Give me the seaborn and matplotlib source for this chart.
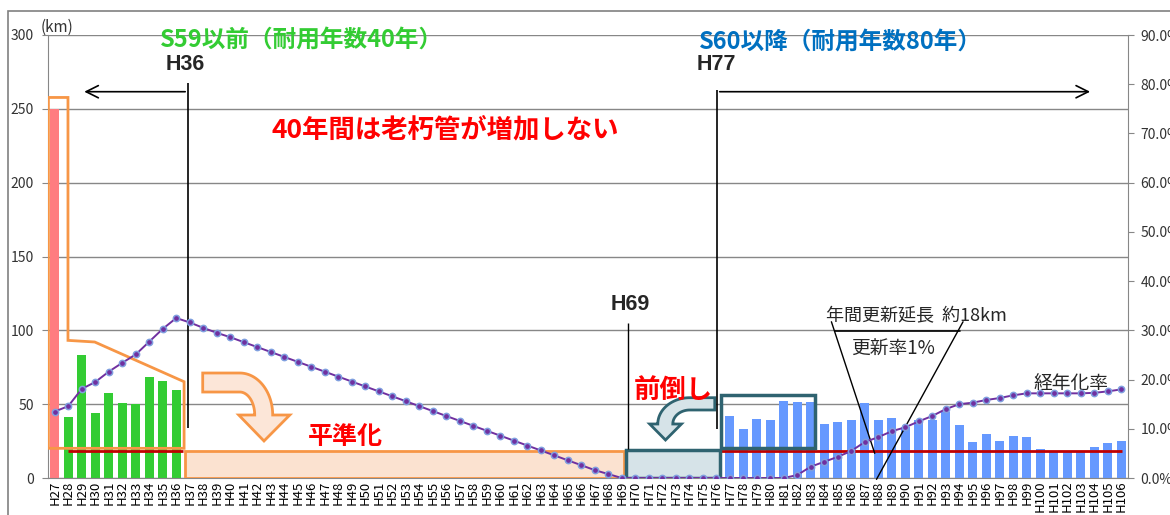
import numpy as np
import pandas as pd
import matplotlib
matplotlib.use("Agg")
import matplotlib.pyplot as plt
import seaborn as sns
from matplotlib.patches import Polygon, Rectangle
from matplotlib.ticker import FuncFormatter

# --- data ---
years = [f"H{n}" for n in range(27, 107)]

pink_years = ["H27"]
pink_km = [250]

green_years = ["H28", "H29", "H30", "H31", "H32", "H33", "H34", "H35", "H36"]
green_km = [41, 83.5, 44, 57.5, 51, 50, 68.5, 65.7, 59.6]

blue_years = [f"H{n}" for n in range(77, 107)]
blue_km = [42.0, 33.2, 40.0, 39.3, 52.1, 51.5, 51.5, 36.6, 37.9, 39.3,
           50.8, 39.3, 40.6, 34.7, 39.3, 39.3, 44.7, 35.9, 24.4, 29.8,
           25.1, 28.7, 27.8, 19.6, 18.3, 18.3, 18.3, 21.0, 23.7, 25.3]

# aging rate (%), H27 .. H106
aging_rate = [13.5, 14.6, 18.1, 19.5, 21.6, 23.4, 25.1, 27.7, 30.3, 32.5,
              31.6, 30.5, 29.5, 28.6, 27.6, 26.6, 25.6, 24.6, 23.6, 22.6,
              21.6, 20.6, 19.6, 18.6, 17.6, 16.6, 15.6, 14.6, 13.6, 12.6,
              11.6, 10.6, 9.6, 8.6, 7.6, 6.6, 5.6, 4.6, 3.6, 2.6,
              1.6, 0.8, 0, 0, 0, 0, 0, 0, 0, 0,
              0, 0, 0, 0, 0, 0.6, 2.3, 3.3, 4.3, 5.5,
              7.3, 8.3, 9.5, 10.3, 11.5, 12.6, 14.0, 15.0, 15.3, 15.85,
              16.25, 16.8, 17.2, 17.2, 17.2, 17.2, 17.2, 17.3, 17.6, 18.0]

renew_km = 18.5

df = pd.DataFrame({
    "year": pink_years + green_years + blue_years,
    "km": pink_km + green_km + blue_km,
    "group": ["pink"] * len(pink_km) + ["green"] * len(green_km) + ["blue"] * len(blue_km),
})
palette = {"pink": "#FF7C80", "green": "#33CC33", "blue": "#6699FF"}

sns.set_style("white")
plt.rcParams["font.family"] = ["Noto Sans CJK JP", "DejaVu Sans"]

fig = plt.figure(figsize=(11.7, 5.15), dpi=100)
ax = fig.add_axes([48 / 1170, 37 / 515, 1080 / 1170, 443 / 515])

sns.barplot(data=df, x="year", y="km", hue="group", order=years, palette=palette,
            saturation=1, dodge=False, width=0.68, linewidth=0, legend=False, ax=ax, zorder=2)

ax.set_xlim(-0.5, len(years) - 0.5)
ax.set_ylim(0, 300)
ax.set_yticks(range(0, 301, 50))
ax.grid(axis="y", color="#878787", lw=1)
ax.set_axisbelow(True)
ax.set_xlabel("")
ax.set_ylabel("")
ax.set_xticks(range(len(years)), years, rotation=90, fontsize=9.5)
ax.set_xticks(np.arange(-0.5, len(years), 1), minor=True)
ax.tick_params(axis="x", which="major", length=0, pad=2, colors="black")
ax.tick_params(axis="x", which="minor", length=5, color="#878787")
ax.tick_params(axis="y", length=4, pad=6, labelsize=10, color="#878787", labelcolor="#333333", left=True)
for s in ["top", "right"]:
    ax.spines[s].set_visible(False)
for s in ["left", "bottom"]:
    ax.spines[s].set_color("#878787")

# --- aging rate on right axis ---
ax2 = ax.twinx()
sns.lineplot(x=np.arange(len(years)), y=aging_rate, ax=ax2, color="#7030A0", lw=1.4,
             marker="o", markersize=4.5, markerfacecolor="#7030A0",
             markeredgecolor="#7F9FDF", markeredgewidth=1.1, zorder=6)
ax2.set_ylim(0, 90)
ax2.set_yticks(range(0, 91, 10))
ax2.yaxis.set_major_formatter(FuncFormatter(lambda v, p: f"{v:.1f}%"))
ax2.tick_params(axis="y", length=4, pad=5, labelsize=10, color="#878787", labelcolor="#333333", right=True)
ax2.set_ylabel("")
for s in ["top", "left", "bottom"]:
    ax2.spines[s].set_visible(False)
ax2.spines["right"].set_color("#878787")
ax2.set_xlim(-0.5, len(years) - 0.5)

# --- shapes ---
orange = "#F79646"
peach = "#FBE2D0"
teal = "#2F6370"
teal_fill = "#D6E3E8"

ax.add_patch(Polygon([(-0.47, 257.7), (0.98, 257.7), (0.98, 93.2), (2.96, 92.1),
                      (9.58, 65.2), (9.58, 20.1), (-0.47, 20.1)],
                     closed=True, fill=False, ec=orange, lw=2, zorder=3))
ax.add_patch(Rectangle((9.63, 0), 42.2 - 9.63, renew_km, fc=peach, ec=orange, lw=2, zorder=3))

ax.hlines(renew_km, 0.96, 9.48, color="#C00000", lw=2, zorder=4)
ax.hlines(renew_km, 42.35, 79.09, color="#C00000", lw=2, zorder=3)

ax.add_patch(Rectangle((42.35, 0), 49.3 - 42.35, 19.0, fc=teal_fill, ec=teal, lw=2.5, zorder=3.5))
ax.add_patch(Rectangle((49.33, 20.1), 56.3 - 49.33, 56.0 - 20.1, fill=False, ec=teal, lw=2.5, zorder=3.5))


def curved_arrow(cx, cy, rxo, ryo, rxi, ryi, tail_x, wing_out, wing_in, tip, side):
    t = np.linspace(np.pi / 2, 0, 40)
    outer = np.c_[cx + side * rxo * np.cos(t), cy + ryo * np.sin(t)]
    inner = np.c_[cx + side * rxi * np.cos(t[::-1]), cy + ryi * np.sin(t[::-1])]
    pts = ([(tail_x, cy + ryo)] + outer.tolist() + [(wing_out, cy), tip, (wing_in, cy)]
           + inner.tolist() + [(tail_x, cy + ryi)])
    return pts


ax.add_patch(Polygon(curved_arrow(13.70, 42.66, 2.444, 28.44, 1.111, 15.57, 10.96,
                                  17.41, 13.63, (15.5, 25.06), 1),
                     closed=True, fc="#FCE6D8", ec=orange, lw=2, zorder=3))
ax.add_patch(Polygon(curved_arrow(47.04, 36.57, 2.370, 17.81, 1.259, 9.48, 48.89,
                                  44.07, 46.42, (45.24, 25.73), -1),
                     closed=True, fc=teal_fill, ec=teal, lw=2, zorder=3))

# black guide lines
ax.vlines(9.87, 33.6, 267.7, color="black", lw=1.2, zorder=5)
ax.vlines(49.05, 33.2, 262.7, color="black", lw=1.2, zorder=5)
ax.vlines(42.47, 19.5, 104.7, color="black", lw=1.0, zorder=5)
ax.annotate("", xy=(1.98, 261.6), xytext=(9.87, 261.6),
            arrowprops=dict(arrowstyle="->", lw=1.2, color="black", mutation_scale=22))
ax.annotate("", xy=(76.9, 261.6), xytext=(49.05, 261.6),
            arrowprops=dict(arrowstyle="->", lw=1.2, color="black", mutation_scale=22))
ax.plot([57.78, 67.04], [99.5, 99.5], color="black", lw=1.2, zorder=5)
ax.plot([57.53, 60.74], [105.8, 16.7], color="black", lw=1.0, zorder=5)
ax.plot([67.28, 60.87], [105.8, -0.9], color="black", lw=1.0, zorder=5, clip_on=False)

# --- texts ---
hfam = ["Liberation Sans", "DejaVu Sans"]
for lab, x, y in [("H36", 9.63, 279.7), ("H77", 49.0, 279.7), ("H69", 42.6, 117.2)]:
    ax.text(x, y, lab, ha="center", va="center", fontsize=15.5, fontweight="bold",
            family=hfam, zorder=7)

ax.text(18.3, 296.6, "S59以前（耐用年数40年）", ha="center", va="center", fontsize=17,
        fontweight="bold", color="#33CC33", zorder=7)
ax.text(58.2, 295.3, "S60以降（耐用年数80年）", ha="center", va="center", fontsize=17,
        fontweight="bold", color="#0070C0", zorder=7)
ax.text(28.96, 235.7, "40年間は老朽管が増加しない", ha="center", va="center", fontsize=19,
        fontweight="bold", color="#FF0000", zorder=7)
ax.text(21.56, 27.8, "平準化", ha="center", va="center", fontsize=18,
        fontweight="bold", color="#FF0000", zorder=7)
ax.text(45.85, 59.6, "前倒し", ha="center", va="center", fontsize=19,
        fontweight="bold", color="#FF0000", zorder=7)
ax.text(63.8, 109.7, "年間更新延長  約18km", ha="center", va="center", fontsize=13, zorder=7)
ax.text(62.1, 87.4, "更新率1%", ha="center", va="center", fontsize=13.5, zorder=7)
ax.text(75.3, 63.7, "経年化率", ha="center", va="center", fontsize=13.5, zorder=7)

fig.text(57 / 1170, 1 - 27 / 515, "(km)", ha="center", va="center", fontsize=11, color="#333333")

fig.add_artist(Rectangle((8 / 1170, -0.1), 1.5, 1 - 11 / 515 + 0.1, transform=fig.transFigure,
                         fill=False, ec="#808080", lw=1.2))

fig.savefig("out.png", dpi=100)
